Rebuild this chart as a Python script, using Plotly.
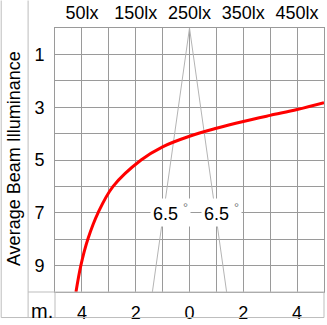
import plotly.graph_objects as go

# Data
distance_m = [2.83, 3.09, 3.31, 3.54, 3.8, 4.1, 4.5, 5.0, 6.0, 7.0, 8.0, 9.0, 10.0]
illuminance_lx = [500, 450, 400, 350, 300, 250, 200, 160, 108, 80, 61, 48, 39]

beam_x = [-1.38, 0, 1.38]
beam_y = [10, 0, 10]
beam_angle_label = "6.5"
label_depth = 7

x_tickvals = [-5, -4, -3, -2, -1, 0, 1, 2, 3, 4, 5]
x_ticktext = ["", "4", "", "2", "", "0", "", "2", "", "4", ""]
y_tickvals = [0, 1, 2, 3, 4, 5, 6, 7, 8, 9, 10]
y_ticktext = ["", "1", "", "3", "", "5", "", "7", "", "9", ""]
lux_tickvals = [50, 150, 250, 350, 450]
lux_ticktext = ["50lx", "150lx", "250lx", "350lx", "450lx"]

FONT = "Liberation Sans, Arial, sans-serif"
GRID = "#9a9a9a"
FRAME = "#bdbdbd"

fig = go.Figure()
fig.add_trace(go.Scatter(x=beam_x, y=beam_y, mode="lines",
                         line=dict(color="#b4b4b4", width=1),
                         hoverinfo="skip", showlegend=False))
fig.add_trace(go.Scatter(x=illuminance_lx, y=distance_m, mode="lines",
                         xaxis="x2", line=dict(color="#ff0000", width=3, shape="spline"),
                         showlegend=False))

for bx in (beam_x[0], beam_x[2]):
    fig.add_annotation(x=bx * label_depth / 10, y=label_depth, xref="x", yref="y",
                       text=beam_angle_label + " <sup><span style='color:#777'>°</span></sup>",
                       showarrow=False, xanchor="left", yanchor="middle", xshift=-14,
                       font=dict(family=FONT, size=18, color="#000"),
                       bgcolor="white", borderpad=2)

fig.add_annotation(x=-0.152, y=0.504, xref="paper", yref="paper",
                   xanchor="center", yanchor="middle",
                   text="Average Beam Illuminance", textangle=-90, showarrow=False,
                   font=dict(family=FONT, size=18, color="#000"))
fig.add_annotation(x=-0.048, y=-0.052, xref="paper", yref="paper",
                   xanchor="center", yanchor="middle", yshift=-5,
                   text="m.", showarrow=False,
                   font=dict(family=FONT, size=20, color="#000"))

def px2x(px):
    return (px - 55) / 270.0

def py2y(py):
    return (297 - py) / 269.0

frame_lines = [
    (1, 0, 1, 323), (28, 0, 28, 323), (1, 323, 325, 323), (28, 297, 325, 297),
    (55, 297, 55, 323), (325, 297, 325, 323),
]
for x0, y0, x1, y1 in frame_lines:
    fig.add_shape(type="line", xref="paper", yref="paper",
                  x0=px2x(x0), y0=py2y(y0), x1=px2x(x1), y1=py2y(y1),
                  line=dict(color=FRAME, width=1))

fig.update_layout(
    width=327, height=325,
    margin=dict(l=55, r=2, t=28, b=28),
    paper_bgcolor="white", plot_bgcolor="white",
    font=dict(family=FONT, size=18, color="#000"),
    xaxis=dict(range=[-5, 5], tickvals=x_tickvals, ticktext=x_ticktext,
               showgrid=True, gridcolor=GRID, gridwidth=1, zeroline=False,
               showline=True, linecolor=GRID, mirror=True, ticks="",
               ticklabelstandoff=4, tickfont=dict(size=18)),
    xaxis2=dict(range=[0, 500], overlaying="x", side="top",
                tickvals=lux_tickvals, ticktext=lux_ticktext,
                showgrid=False, zeroline=False, showline=False, ticks="",
                ticklabelstandoff=4, tickfont=dict(size=18)),
    yaxis=dict(range=[10, 0], tickvals=y_tickvals, ticktext=y_ticktext,
               showgrid=True, gridcolor=GRID, gridwidth=1, zeroline=False,
               showline=True, linecolor=GRID, mirror=True, ticks="",
               ticklabelstandoff=6, tickfont=dict(size=18)),
)

fig.write_html("out.html")
